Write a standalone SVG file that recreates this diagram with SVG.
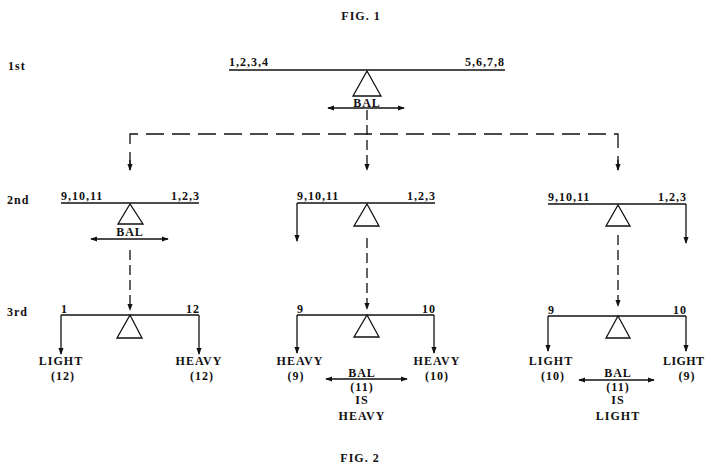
<svg xmlns="http://www.w3.org/2000/svg" width="706" height="467" viewBox="0 0 706 467">
<style>
text{font-family:"Liberation Serif","Times New Roman",serif;font-weight:bold;font-size:12px;fill:#111;letter-spacing:1px}
.t{text-anchor:middle}
.e{text-anchor:end}
.ln{stroke:#111;stroke-width:1.3;fill:none}
.ds{stroke:#111;stroke-width:1.3;fill:none;stroke-dasharray:10 5}
.dh{stroke:#111;stroke-width:1.3;fill:none;stroke-dasharray:18 8}
.tri{stroke:#111;stroke-width:1.3;fill:#fff}
</style>
<defs>
<marker id="ah" viewBox="0 0 8 8" refX="7" refY="4" markerWidth="7" markerHeight="7" markerUnits="userSpaceOnUse" orient="auto-start-reverse">
<path d="M0,1 L8,4 L0,7 Z" fill="#111"/>
</marker>
</defs>
<rect width="706" height="467" fill="#fff"/>
<text class="t" x="361" y="20" font-size="13">FIG. 1</text>
<text x="8" y="70" font-size="13">1st</text>
<text x="7" y="204" font-size="13">2nd</text>
<text x="7" y="316" font-size="13">3rd</text>
<text class="t" x="360" y="462" font-size="13">FIG. 2</text>

<g id="scale1">
<line class="ln" x1="229" y1="70" x2="505" y2="70"/>
<polygon class="tri" points="367,71 353,96 381,96"/>
<text x="229" y="66">1,2,3,4</text>
<text class="e" x="505" y="66">5,6,7,8</text>
<text class="t" x="367" y="107">BAL</text>
</g>

<g id="scale2a">
<line class="ln" x1="61" y1="203" x2="199" y2="203"/>
<polygon class="tri" points="130,204 118,224 143,224"/>
<text x="61" y="200">9,10,11</text>
<text class="e" x="200" y="200">1,2,3</text>
<text class="t" x="130" y="236">BAL</text>
</g>

<g id="scale2b">
<line class="ln" x1="297" y1="203" x2="435" y2="203"/>
<polygon class="tri" points="367,204 354,226 379,226"/>
<text x="297" y="200">9,10,11</text>
<text class="e" x="436" y="200">1,2,3</text>
</g>

<g id="scale2c">
<line class="ln" x1="548" y1="204" x2="686" y2="204"/>
<polygon class="tri" points="618,205 606,226 630,226"/>
<text x="548" y="201">9,10,11</text>
<text class="e" x="687" y="201">1,2,3</text>
</g>

<g id="scale3a">
<line class="ln" x1="61" y1="315" x2="199" y2="315"/>
<polygon class="tri" points="130,315 117,338 142,338"/>
<text x="61" y="313">1</text>
<text class="e" x="200" y="313">12</text>
<text class="t" x="61" y="365">LIGHT</text>
<text class="t" x="63" y="380">(12)</text>
<text class="t" x="199" y="365">HEAVY</text>
<text class="t" x="202" y="380">(12)</text>
</g>

<g id="scale3b">
<line class="ln" x1="297" y1="315" x2="434" y2="315"/>
<polygon class="tri" points="367,315 354,337 379,337"/>
<text x="297" y="313">9</text>
<text class="e" x="436" y="313">10</text>
<text class="t" x="300" y="365">HEAVY</text>
<text class="t" x="296" y="380">(9)</text>
<text class="t" x="437" y="365">HEAVY</text>
<text class="t" x="437" y="380">(10)</text>
<text class="t" x="362" y="377">BAL</text>
<text class="t" x="362" y="391">(11)</text>
<text class="t" x="362" y="404">IS</text>
<text class="t" x="362" y="420">HEAVY</text>
</g>

<g id="scale3c">
<line class="ln" x1="548" y1="316" x2="686" y2="316"/>
<polygon class="tri" points="618,316 606,338 630,338"/>
<text x="548" y="314">9</text>
<text class="e" x="687" y="314">10</text>
<text class="t" x="551" y="365">LIGHT</text>
<text class="t" x="553" y="380">(10)</text>
<text x="663" y="365" style="letter-spacing:0.4px">LIGHT</text>
<text class="t" x="687" y="380">(9)</text>
<text class="t" x="618" y="377">BAL</text>
<text class="t" x="618" y="391">(11)</text>
<text class="t" x="618" y="404">IS</text>
<text class="t" x="618" y="420">LIGHT</text>
</g>

<g id="connectors">
<line class="ln" x1="328" y1="108" x2="404" y2="108" marker-start="url(#ah)" marker-end="url(#ah)"/>
<line class="ds" x1="367" y1="110" x2="367" y2="170" marker-end="url(#ah)"/>
<polyline class="dh" points="130,170 130,134 618,134 618,170"/>
<line class="ln" x1="130" y1="160" x2="130" y2="170" marker-end="url(#ah)"/>
<line class="ln" x1="618" y1="160" x2="618" y2="170" marker-end="url(#ah)"/>

<line class="ln" x1="91" y1="239" x2="168" y2="239" marker-start="url(#ah)" marker-end="url(#ah)"/>
<line class="ds" x1="130" y1="250" x2="130" y2="310" marker-end="url(#ah)"/>
<polyline class="ln" points="297,203 297,241" marker-end="url(#ah)"/>
<line class="ds" x1="367" y1="238" x2="367" y2="309" marker-end="url(#ah)"/>
<polyline class="ln" points="686,204 686,243" marker-end="url(#ah)"/>
<line class="ds" x1="618" y1="235" x2="618" y2="306" marker-end="url(#ah)"/>

<line class="ln" x1="61" y1="315" x2="61" y2="354" marker-end="url(#ah)"/>
<line class="ln" x1="199" y1="315" x2="199" y2="354" marker-end="url(#ah)"/>
<line class="ln" x1="297" y1="315" x2="297" y2="353" marker-end="url(#ah)"/>
<line class="ln" x1="434" y1="315" x2="434" y2="353" marker-end="url(#ah)"/>
<line class="ln" x1="326" y1="379" x2="407" y2="379" marker-start="url(#ah)" marker-end="url(#ah)"/>
<line class="ln" x1="548" y1="316" x2="548" y2="351" marker-end="url(#ah)"/>
<line class="ln" x1="686" y1="316" x2="686" y2="351" marker-end="url(#ah)"/>
<line class="ln" x1="579" y1="380" x2="654" y2="380" marker-start="url(#ah)" marker-end="url(#ah)"/>
</g>
</svg>
